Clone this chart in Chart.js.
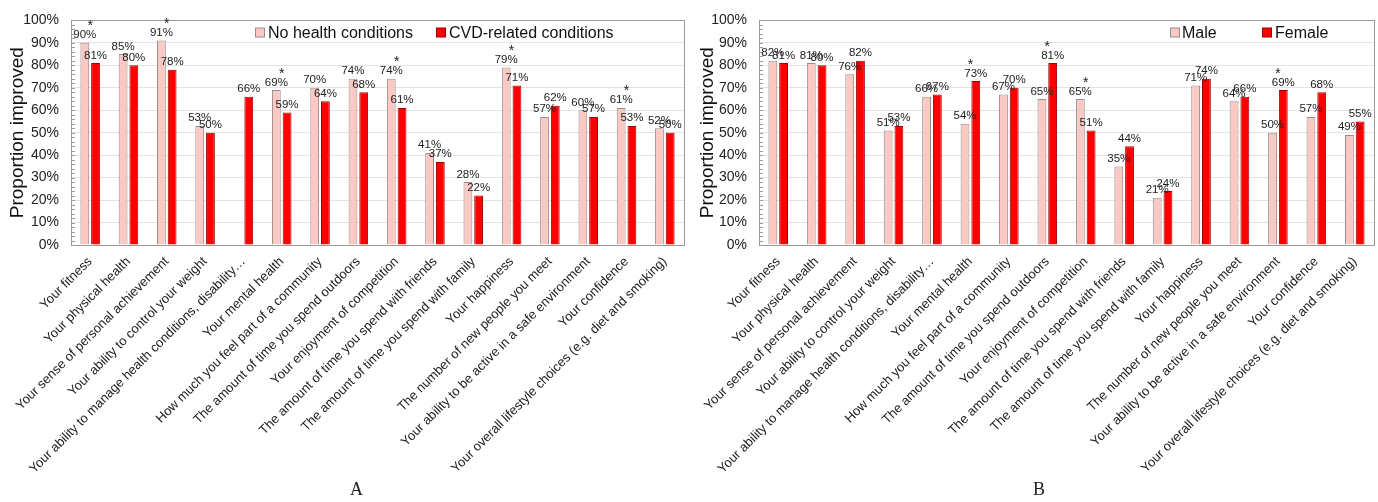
<!DOCTYPE html>
<html><head><meta charset="utf-8">
<script src="https://cdn.jsdelivr.net/npm/chart.js@4.4.1/dist/chart.umd.min.js"></script>
<style>
html,body{margin:0;padding:0;background:#fff;}
body{width:1378px;height:502px;position:relative;overflow:hidden;}
canvas{position:absolute;top:0;}
#cA{left:0;}
#cB{left:690px;}
.panel{position:absolute;top:479px;font-family:"Liberation Serif","Times New Roman",serif;font-size:18px;color:#222;}
</style></head><body>
<canvas id="cA" width="690" height="502"></canvas>
<canvas id="cB" width="688" height="502"></canvas>
<div class="panel" style="left:350px">A</div>
<div class="panel" style="left:1033px">B</div>
<script>
// ---- data ----
const categories = [
  "Your fitness",
  "Your physical health",
  "Your sense of personal achievement",
  "Your ability to control your weight",
  "Your ability to manage health conditions, disability\u2026",
  "Your mental health",
  "How much you feel part of a community",
  "The amount of time you spend outdoors",
  "Your enjoyment of competition",
  "The amount of time you spend with friends",
  "The amount of time you spend with family",
  "Your happiness",
  "The number of new people you meet",
  "Your ability to be active in a safe environment",
  "Your confidence",
  "Your overall lifestyle choices (e.g. diet and smoking)"
];
const yTickValues = [0,10,20,30,40,50,60,70,80,90,100];
const noHealthConditions = [90,85,91,53,null,69,70,74,74,41,28,79,57,60,61,52];
const cvdRelated        = [81,80,78,50,66,59,64,68,61,37,22,71,62,57,53,50];
const significantA      = [1,0,1,0,0,1,0,0,1,0,0,1,0,0,1,0];
const male   = [82,81,76,51,66,54,67,65,65,35,21,71,64,50,57,49];
const female = [81,80,82,53,67,73,70,81,51,44,24,74,66,69,68,55];
const significantB = [0,0,0,0,0,1,0,1,1,0,0,0,0,1,0,0];

const FONT = '"Liberation Sans", Arial, sans-serif';
const PINK = '#fbc9c4', PINK_B = '#9b8c8c';
const RED = '#ff0000', RED_B = '#a00000';

const extras = {
  id: 'extras',
  beforeDatasetsDraw(chart) {
    const ctx = chart.ctx, a = chart.chartArea, ys = chart.scales.y;
    ctx.save();
    ctx.strokeStyle = '#9a9a9a';
    ctx.lineWidth = 1;
    for (let v = 0; v <= 100; v += 2) {
      const y = Math.round(ys.getPixelForValue(v)) + 0.5;
      ctx.beginPath(); ctx.moveTo(a.left, y); ctx.lineTo(a.left + 4, y); ctx.stroke();
    }
    ctx.strokeRect(Math.round(a.left) + 0.5, Math.round(a.top) + 0.5,
                   Math.round(a.right - a.left), Math.round(a.bottom - a.top));
    ctx.restore();
  },
  afterDatasetsDraw(chart, args, opts) {
    const ctx = chart.ctx, ys = chart.scales.y, xs = chart.scales.x;
    ctx.save();
    ctx.fillStyle = '#222';
    ctx.textAlign = 'center';
    ctx.textBaseline = 'alphabetic';
    ctx.font = '11.5px ' + FONT;
    chart.data.datasets.forEach((ds, di) => {
      const meta = chart.getDatasetMeta(di);
      meta.data.forEach((bar, i) => {
        const v = ds.data[i];
        if (v == null) return;
        ctx.fillText(v + '%', bar.x, bar.y - 4.5);
      });
    });
    ctx.font = '14px ' + FONT;
    (opts.sig || []).forEach((s, i) => {
      if (!s) return;
      const maxV = Math.max(...chart.data.datasets.map(d => d.data[i] == null ? 0 : d.data[i]));
      const base = ys.getPixelForValue(maxV) - 4.5;
      ctx.fillText('*', xs.getPixelForValue(i), base - 8);
    });
    // legend
    const lg = opts.legend || [];
    ctx.font = '16px ' + FONT;
    ctx.textAlign = 'left';
    ctx.textBaseline = 'middle';
    lg.forEach((it, di) => {
      const ds = chart.data.datasets[di];
      ctx.fillStyle = ds.backgroundColor;
      ctx.strokeStyle = ds.borderColor;
      ctx.lineWidth = 1;
      ctx.fillRect(it.box + 0.5, opts.legendY - 4.5, 9, 9);
      ctx.strokeRect(it.box + 0.5, opts.legendY - 4.5, 9, 9);
      ctx.fillStyle = '#111';
      ctx.fillText(ds.label, it.text, opts.legendY + 1);
    });
    ctx.restore();
  }
};

function makeChart(id, labels1, d1, labels2, d2, sig, yWidth, padRight, legend) {
  return new Chart(document.getElementById(id), {
    type: 'bar',
    data: {
      labels: categories,
      datasets: [
        { label: labels1, data: d1, backgroundColor: PINK, borderColor: PINK_B, borderWidth: 1,
          categoryPercentage: 0.56, barPercentage: 0.82 },
        { label: labels2, data: d2, backgroundColor: RED, borderColor: RED_B, borderWidth: 1,
          categoryPercentage: 0.56, barPercentage: 0.82 }
      ]
    },
    options: {
      responsive: false,
      animation: false,
      devicePixelRatio: 1,
      layout: { padding: { top: 16, right: padRight, left: 0, bottom: 0 } },
      plugins: {
        legend: { display: false },
        tooltip: { enabled: false },
        extras: { sig: sig, legend: legend, legendY: 32.5 }
      },
      scales: {
        x: {
          grid: { display: false, drawTicks: true, tickLength: 6 },
          border: { display: true, color: '#9a9a9a' },
          ticks: { autoSkip: false, maxRotation: 45, minRotation: 45, padding: 3,
                   color: '#222', font: { family: FONT, size: 13 } },
          afterFit(scale) { scale.height = 257; }
        },
        y: {
          min: 0, max: 100,
          afterBuildTicks(scale) { scale.ticks = yTickValues.map(v => ({ value: v })); },
          ticks: { callback: v => v + '%', color: '#222', padding: 12,
                   font: { family: FONT, size: 14 } },
          grid: { color: '#e3e3e3', drawTicks: false },
          border: { display: true, color: '#9a9a9a' },
          title: { display: true, text: 'Proportion improved', color: '#111',
                   font: { family: FONT, size: 19 }, padding: { top: 6, bottom: 0 } },
          afterFit(scale) { scale.width = yWidth; }
        }
      }
    },
    plugins: [extras]
  });
}

makeChart('cA', 'No health conditions', noHealthConditions, 'CVD-related conditions', cvdRelated,
  significantA, 71, 6, [{ box: 255, text: 268 }, { box: 436, text: 449 }]);
makeChart('cB', 'Male', male, 'Female', female,
  significantB, 69, 4, [{ box: 480, text: 492 }, { box: 572, text: 585 }]);
</script>
</body></html>
